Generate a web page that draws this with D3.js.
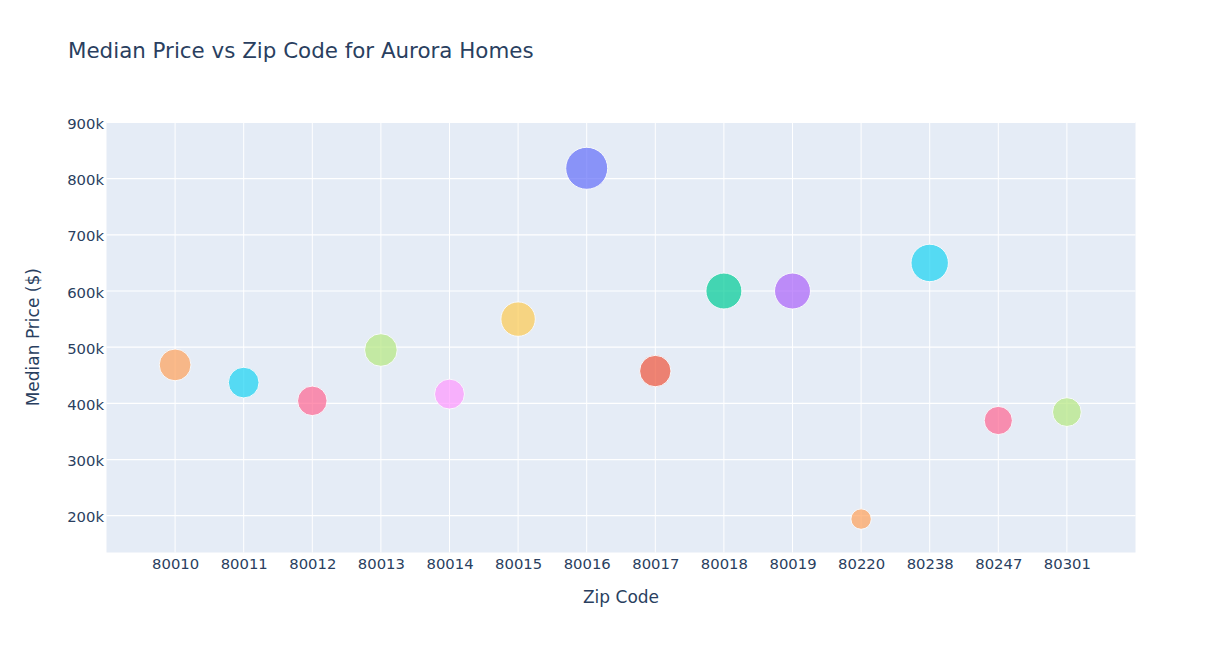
<!DOCTYPE html>
<html><head><meta charset="utf-8">
<script src="https://cdn.jsdelivr.net/npm/d3@7"></script>
<style>body{margin:0;background:#fff}svg{display:block}text{font-family:"DejaVu Sans",Verdana,sans-serif}</style>
</head><body>
<svg id="c" width="1225" height="645"></svg>
<script>
const zips = ["80010","80011","80012","80013","80014","80015","80016","80017","80018","80019","80220","80238","80247","80301"];
const prices = [468500,437000,404500,495000,416500,550000,818500,457500,600000,600000,194000,650000,369500,384500];
const colors = ["#FFA15A","#19D3F3","#FF6692","#B6E880","#FF97FF","#FECB52","#636EFA","#EF553B","#00CC96","#AB63FA","#FFA15A","#19D3F3","#FF6692","#B6E880"];
const yTicks = [200000,300000,400000,500000,600000,700000,800000,900000];
const title = "Median Price vs Zip Code for Aurora Homes";
const xTitle = "Zip Code", yTitle = "Median Price ($)";

const FONT = '"DejaVu Sans",Verdana,sans-serif';
const svg = d3.select("#c");
const L = 106.5, R = 1135.5, T = 122, B = 552.5;
const x = d3.scalePoint().domain(zips).range([L, R]).padding(1);
const y = d3.scaleLinear().domain([134500, 900900]).range([B, T]);
const r = d3.scaleSqrt().domain([0, d3.max(prices)]).range([0, 21]);

svg.append("rect").attr("x", L).attr("y", T).attr("width", R - L).attr("height", B - T).attr("fill", "#E5ECF6");

const g = svg.append("g");
g.selectAll(".vg").data(zips).join("line")
  .attr("x1", d => x(d)).attr("x2", d => x(d)).attr("y1", T).attr("y2", B)
  .attr("stroke", "#fff").attr("stroke-width", 1);
g.selectAll(".hg").data(yTicks).join("line")
  .attr("x1", L).attr("x2", R).attr("y1", d => y(d)).attr("y2", d => y(d))
  .attr("stroke", "#fff").attr("stroke-width", 1.2);

// axes
const xAxis = d3.axisBottom(x).tickSize(0);
const xa = svg.append("g").attr("transform", `translate(0,${B})`).call(xAxis);
xa.select(".domain").remove();
xa.selectAll("text").attr("y", 16.5).attr("dy", null).attr("fill", "#2a3f5f")
  .style("font-size", "14.8px").style("font-family", FONT);

const yAxis = d3.axisLeft(y).tickValues(yTicks).tickSize(0).tickFormat(d => (d / 1000) + "k");
const ya = svg.append("g").attr("transform", `translate(${L},0)`).call(yAxis);
ya.select(".domain").remove();
ya.selectAll("text").attr("x", -2.5).attr("dy", null).attr("y", 6).attr("fill", "#2a3f5f")
  .style("font-size", "14.8px").style("font-family", FONT);

// bubbles
const data = zips.map((z, i) => ({z, p: prices[i], c: colors[i]}));
svg.append("g").selectAll("circle").data(data).join("circle")
  .attr("cx", d => x(d.z)).attr("cy", d => y(d.p)).attr("r", d => r(d.p))
  .attr("fill", d => d.c).attr("opacity", 0.7)
  .attr("stroke", "#fff").attr("stroke-width", 1);

svg.append("text").attr("x", 68).attr("y", 58).text(title)
  .attr("fill", "#2a3f5f").style("font-size", "21.4px");
svg.append("text").attr("x", (L + R) / 2).attr("y", 603).attr("text-anchor", "middle").text(xTitle)
  .attr("fill", "#2a3f5f").style("font-size", "17px");
svg.append("text").attr("transform", `translate(39,${(T + B) / 2}) rotate(-90)`).attr("text-anchor", "middle").text(yTitle)
  .attr("fill", "#2a3f5f").style("font-size", "17px");
</script>
</body></html>
